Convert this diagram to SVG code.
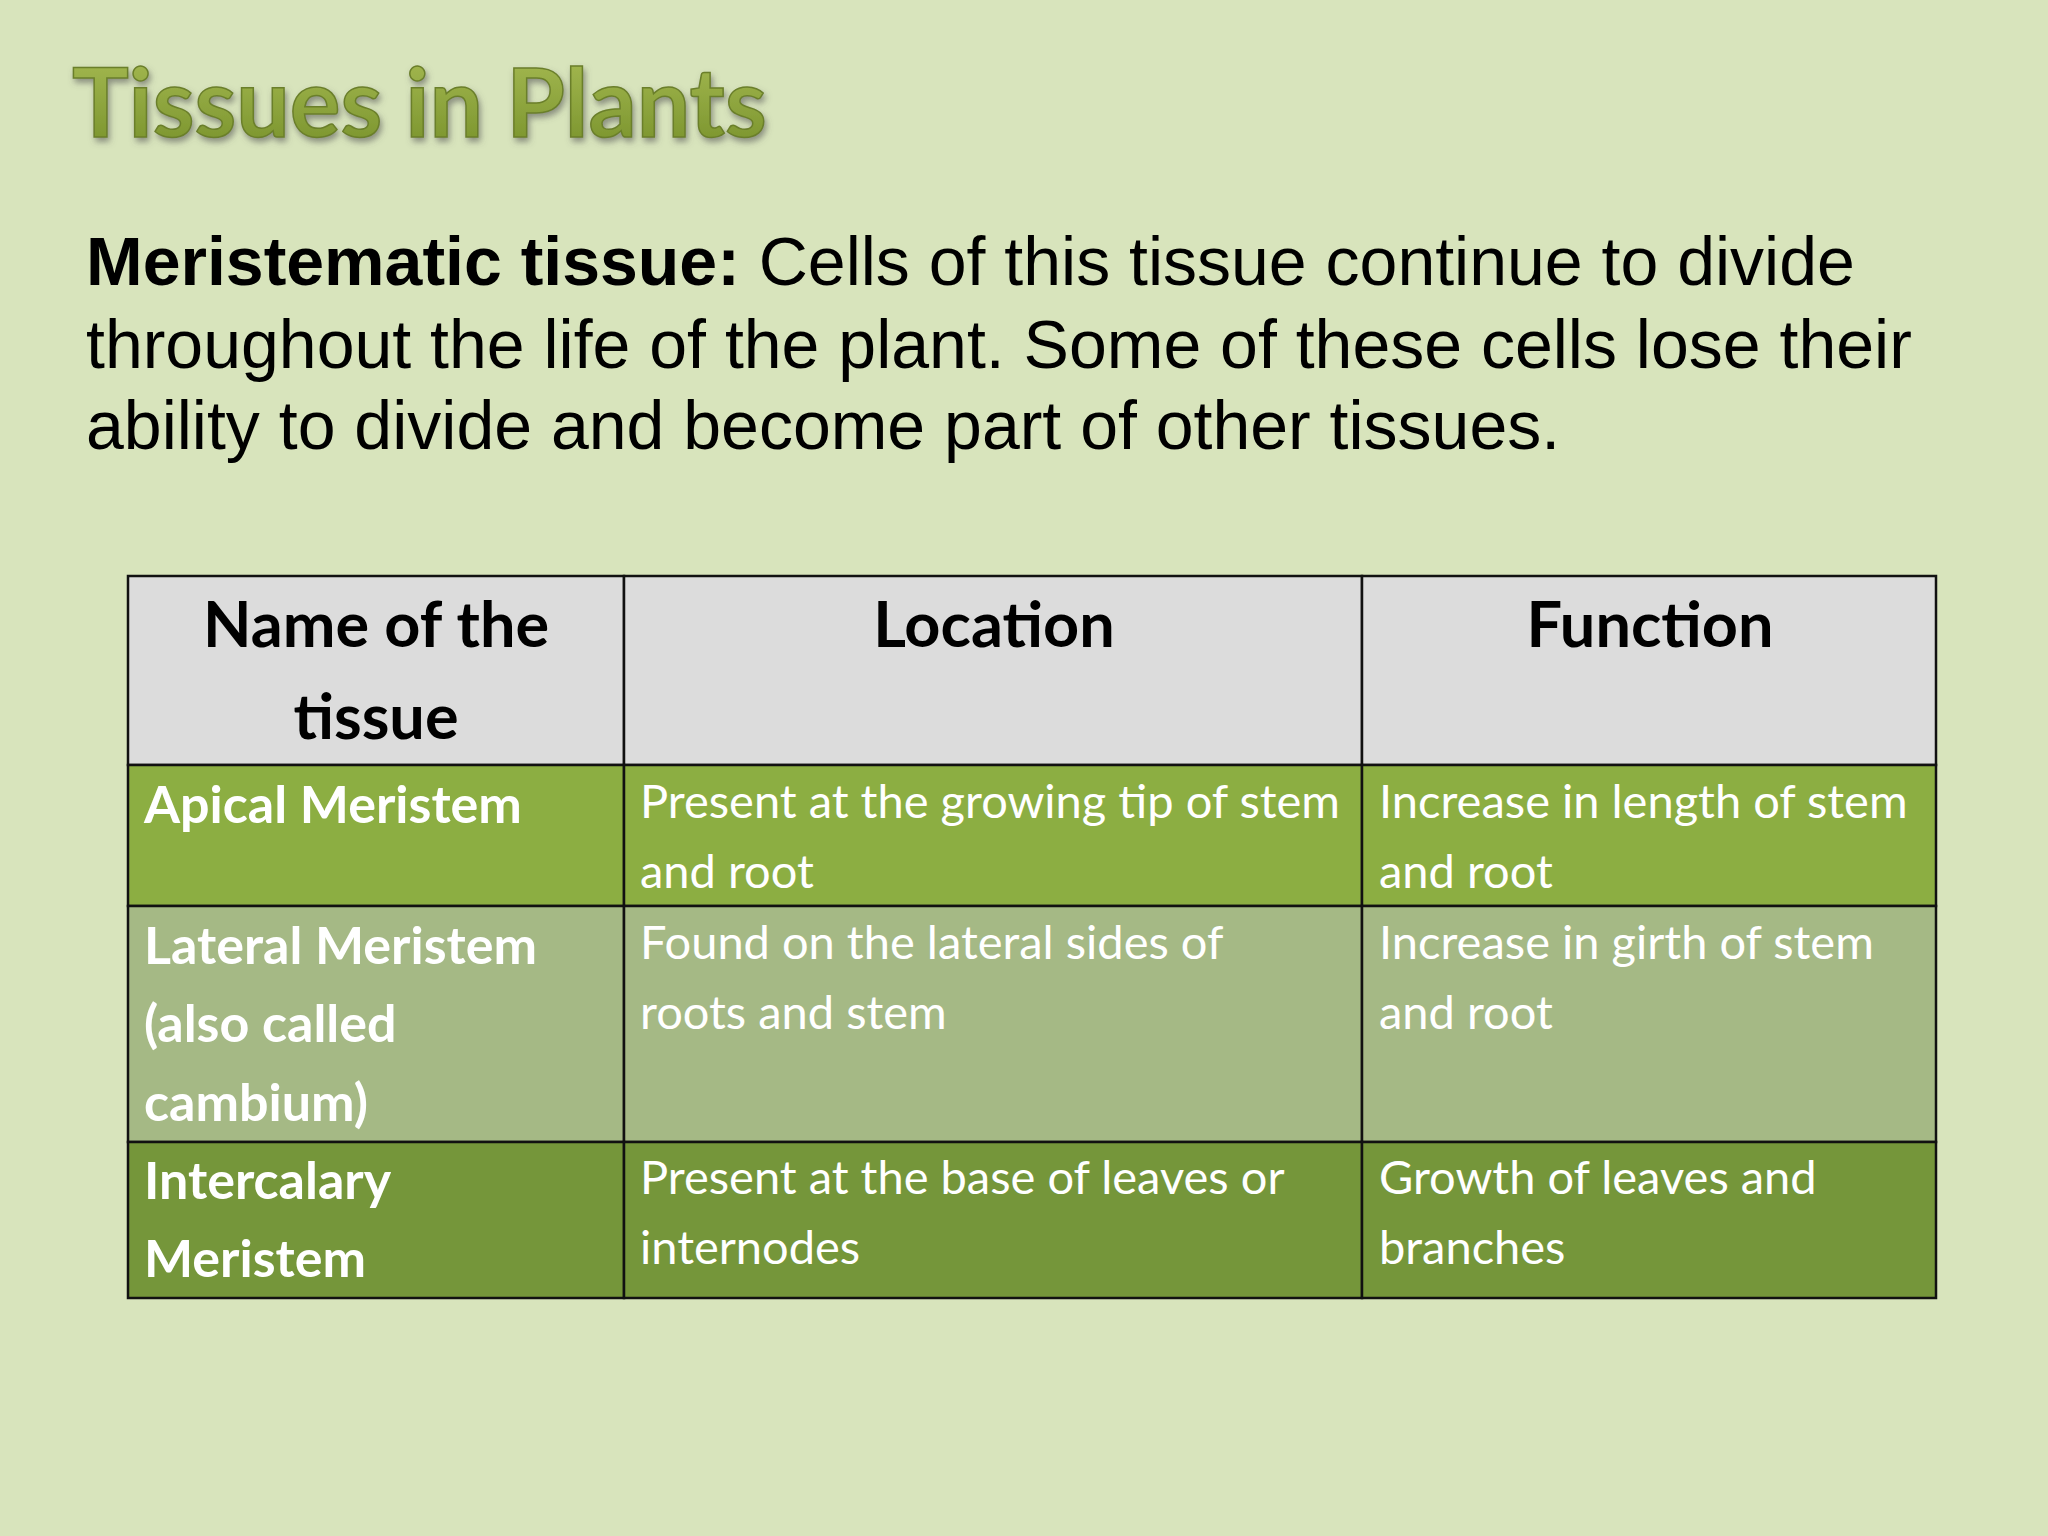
<svg xmlns="http://www.w3.org/2000/svg" width="2048" height="1536" viewBox="0 0 2048 1536">
<defs>
<filter id="sh" x="-10%" y="-20%" width="120%" height="150%"><feDropShadow dx="2" dy="4" stdDeviation="3" flood-color="#555" flood-opacity="0.6"/></filter>
<linearGradient id="tg" x1="0" y1="0" x2="0" y2="1"><stop offset="0" stop-color="#a9bd55"/><stop offset="1" stop-color="#76902a"/></linearGradient>
</defs>
<style>
.cell{stroke:#111;stroke-width:2.5}
.hd{font-family:Lato,"Open Sans",sans-serif;font-weight:bold;font-size:63px;fill:#000;text-anchor:middle}
.tx{font-family:Lato,"Open Sans",sans-serif;font-size:47px;fill:#fff}
.b{font-weight:bold;font-size:52px}
.p{font-family:"Liberation Sans",Arial,sans-serif;font-size:68px;fill:#000}
</style>
<rect width="2048" height="1536" fill="#d8e4bc"/>
<text x="72" y="137" font-family="Lato,sans-serif" font-weight="bold" font-size="95" fill="url(#tg)" stroke="#6b7f2a" stroke-width="1.5" filter="url(#sh)">Tissues in Plants</text>
<g id="para" class="p">
<text x="86" y="285"><tspan font-weight="bold">Meristematic tissue:</tspan> Cells of this tissue continue to divide</text>
<text x="86" y="368">throughout the life of the plant. Some of these cells lose their</text>
<text x="86" y="449">ability to divide and become part of other tissues.</text>
</g>
<g id="table">
<g id="header">
<rect class="cell" x="128" y="576" width="496" height="189" fill="#dcdcdc"/>
<rect class="cell" x="624" y="576" width="738" height="189" fill="#dcdcdc"/>
<rect class="cell" x="1362" y="576" width="574" height="189" fill="#dcdcdc"/>
<text class="hd" x="376" y="647">Name of the</text>
<text class="hd" x="376" y="739">tissue</text>
<text class="hd" x="994" y="647">Location</text>
<text class="hd" x="1650" y="647">Function</text>
</g>
<g id="row1">
<rect class="cell" x="128" y="765" width="496" height="141" fill="#8cae42"/>
<rect class="cell" x="624" y="765" width="738" height="141" fill="#8cae42"/>
<rect class="cell" x="1362" y="765" width="574" height="141" fill="#8cae42"/>
<text class="tx b" x="144" y="823">Apical Meristem</text>
<text class="tx" x="640" y="818">Present at the growing tip of stem</text>
<text class="tx" x="640" y="888">and root</text>
<text class="tx" x="1379" y="818">Increase in length of stem</text>
<text class="tx" x="1379" y="888">and root</text>
</g>
<g id="row2">
<rect class="cell" x="128" y="906" width="496" height="236" fill="#a5b985"/>
<rect class="cell" x="624" y="906" width="738" height="236" fill="#a5b985"/>
<rect class="cell" x="1362" y="906" width="574" height="236" fill="#a5b985"/>
<text class="tx b" x="144" y="964">Lateral Meristem</text>
<text class="tx b" x="144" y="1042">(also called</text>
<text class="tx b" x="144" y="1121">cambium)</text>
<text class="tx" x="640" y="959">Found on the lateral sides of</text>
<text class="tx" x="640" y="1029">roots and stem</text>
<text class="tx" x="1379" y="959">Increase in girth of stem</text>
<text class="tx" x="1379" y="1029">and root</text>
</g>
<g id="row3">
<rect class="cell" x="128" y="1142" width="496" height="156" fill="#75963a"/>
<rect class="cell" x="624" y="1142" width="738" height="156" fill="#75963a"/>
<rect class="cell" x="1362" y="1142" width="574" height="156" fill="#75963a"/>
<text class="tx b" x="144" y="1199">Intercalary</text>
<text class="tx b" x="144" y="1277">Meristem</text>
<text class="tx" x="640" y="1194">Present at the base of leaves or</text>
<text class="tx" x="640" y="1264">internodes</text>
<text class="tx" x="1379" y="1194">Growth of leaves and</text>
<text class="tx" x="1379" y="1264">branches</text>
</g>
</g>
</svg>
